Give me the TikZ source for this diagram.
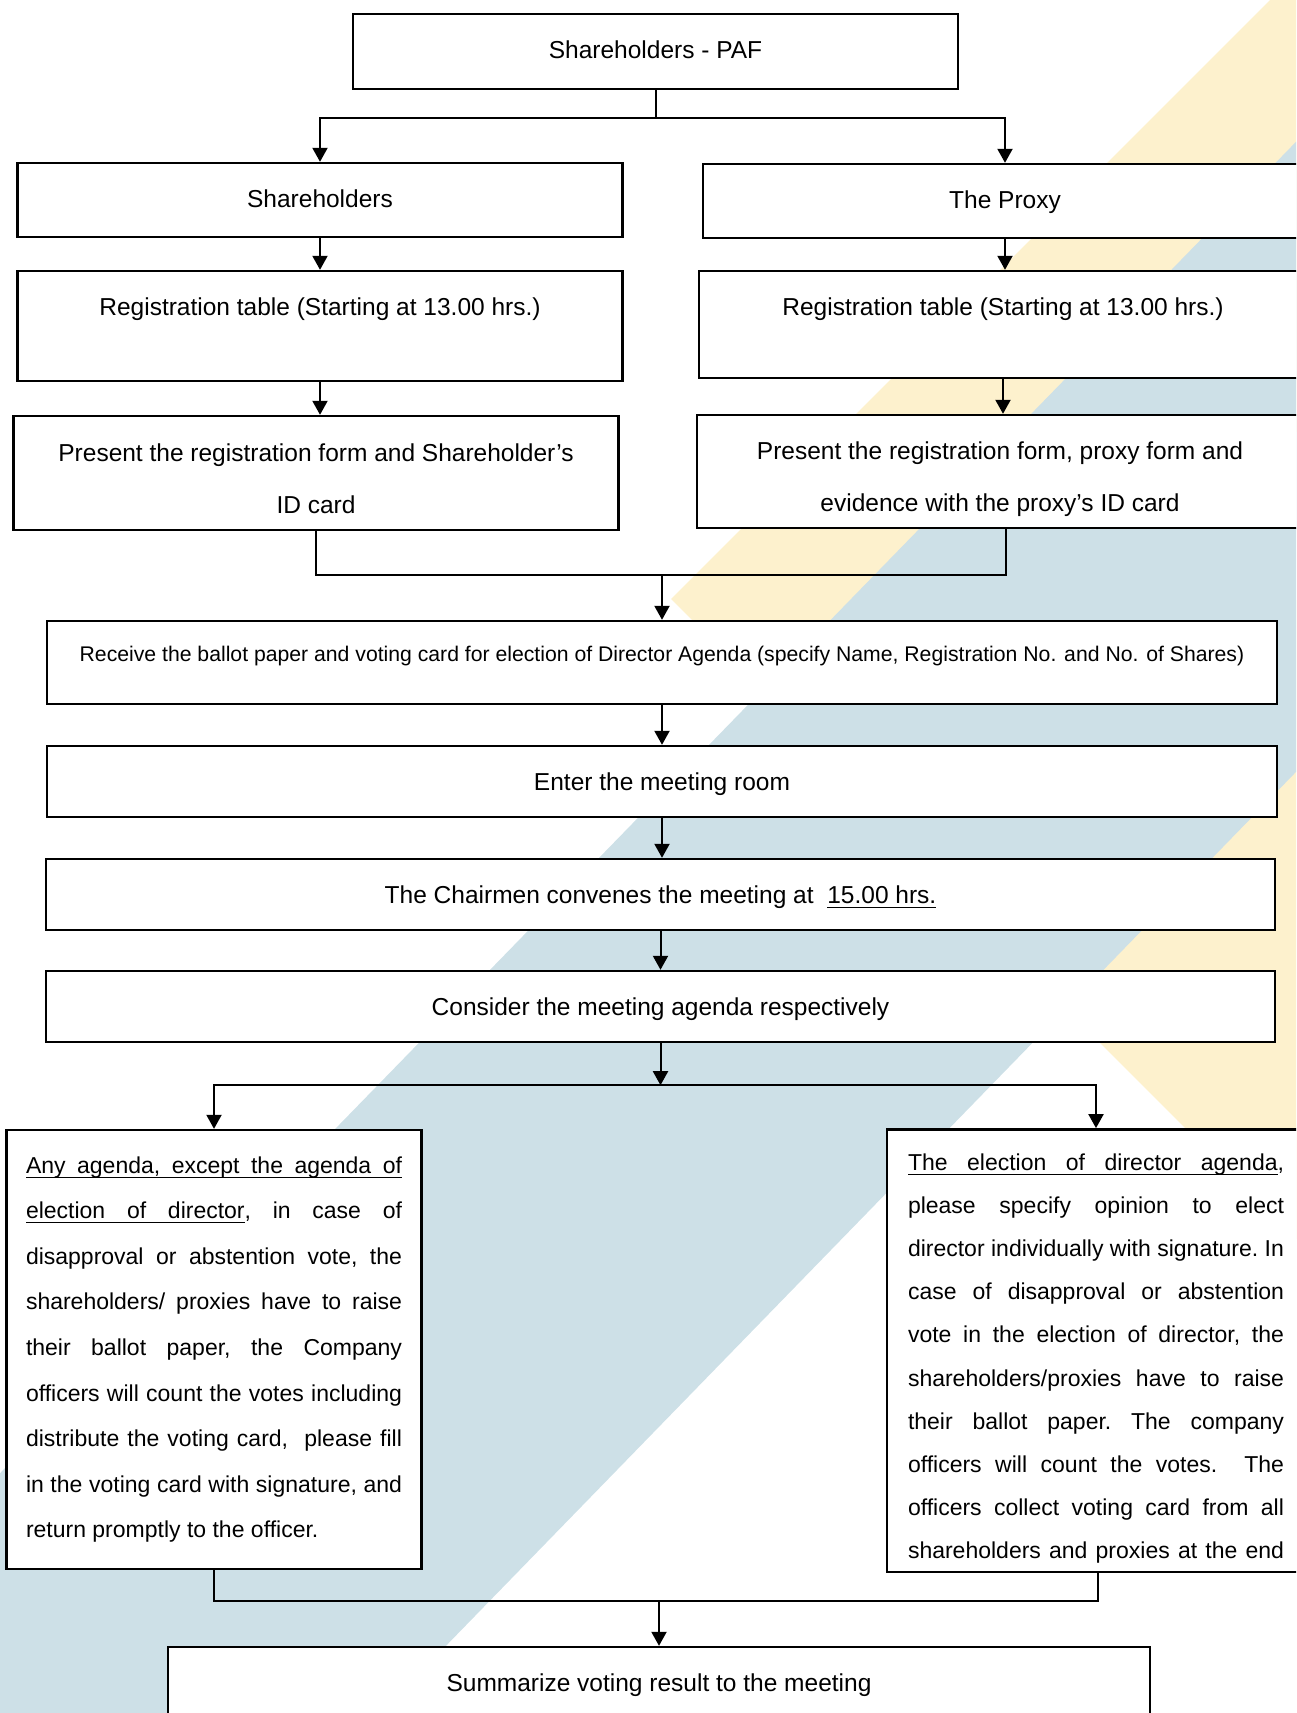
\documentclass[tikz,border=0pt]{standalone}
\usepackage{fontspec}
\setmainfont{Liberation Sans}
\usepackage{tikz}
\usetikzlibrary{arrows.meta}
\definecolor{bandyellow}{HTML}{FDF1CD}
\definecolor{bandblue}{HTML}{CDE0E7}
% underlined word and underlined (stretchable) space
\newcommand\ulw[1]{\setbox0\hbox{#1}\rlap{\vrule height -1.8pt depth 2.4pt width \wd0}\box0}
\newcommand\ulgap{\leaders\hrule height -1.8pt depth 2.4pt\hskip\fontdimen2\font plus\fontdimen3\font minus\fontdimen4\font}
\tikzset{
  lift/.style={text height=9pt,text depth=#1},
  level/.style={text height=9pt,text depth=0pt},
  twoline/.style={align=center,font=\fontsize{12.25}{26}\selectfont},
  agenda/.style={align=justify,text width=188pt,font=\fontsize{11.5}{#1}\selectfont\frenchspacing},
}

\begin{document}
\begin{tikzpicture}[x=0.5pt,y=-0.5pt,
          box/.style={draw=black,line width=1.2pt,fill=white,inner sep=4pt,
                      font=\fontsize{12.25}{14}\selectfont},
          flow/.style={-{Triangle[length=7pt,width=7.5pt]},line width=1pt},
          tie/.style={line width=1pt}]
        \useasboundingbox (0,0) rectangle (1296,1713);
        \clip (0,0) rectangle (1296,1713);
        % background bands
        \fill[bandyellow] (1280,-10) -- (671,599) -- (900,828) -- (1400,328) -- (1400,-10) -- cycle;
        \fill[bandyellow] (1000,943) -- (1450,1393) -- (1450,600) -- (1200,600) -- cycle;
        \fill[bandblue] (1400,35) -- (-100,1576) -- (-100,1800) -- (296,1800) -- (1400,665) -- cycle;
        % registration
        \node[box,lift=2.4pt,minimum width=302.5pt,minimum height=37.5pt] (paf) at (655.5,51.5) {Shareholders - PAF};
        \node[box,lift=1.2pt,minimum width=302.5pt,minimum height=37pt]   (sh)  at (320,200)    {Shareholders};
        \node[box,lift=1.6pt,minimum width=302pt,minimum height=37pt]     (px)  at (1005,201)   {The Proxy};
        \node[box,lift=20pt,minimum width=302.5pt,minimum height=55pt] (regl) at (320,326)  {Registration table (Starting at 13.00 hrs.)};
        \node[box,lift=18pt,minimum width=304pt,minimum height=53.5pt] (regr) at (1003,324.5) {Registration table (Starting at 13.00 hrs.)};
        \node[box,twoline,minimum width=302.5pt,minimum height=57pt] (presl) at (316,473)
          {\rule{0pt}{14.4pt}Present the registration form and Shareholder’s\\ID card};
        \node[box,twoline,minimum width=303pt,minimum height=56.5pt] (presr) at (1000,471.5)
          {\rule{0pt}{16.4pt}Present the registration form, proxy form and\\evidence with the proxy’s ID card};
        % meeting
        \node[box,lift=9.9pt,font=\fontsize{10.6}{13}\selectfont,minimum width=615pt,minimum height=41.5pt] (rec) at (662,662.5)
          {Receive the ballot paper and voting card for election of Director Agenda (specify Name, Registration No. and No. of Shares)};
        \node[box,level,minimum width=615pt,minimum height=35.5pt]   (enter)  at (662,781.5)   {Enter the meeting room};
        \node[box,level,minimum width=614.5pt,minimum height=35.5pt] (chair)  at (660.5,894.5) {The Chairmen convenes the meeting at\ \ \ulw{15.00}\ulgap\ulw{hrs.}};
        \node[box,level,minimum width=614.5pt,minimum height=35.5pt] (agenda) at (660.5,1006.5) {Consider the meeting agenda respectively};
        % voting
        \node[box,agenda=22.8pt,minimum width=207.5pt,minimum height=219.5pt] (anyag) at (214,1349.5)
          {\ulw{Any}\ulgap\ulw{agenda,}\ulgap\ulw{except}\ulgap\ulw{the}\ulgap\ulw{agenda}\ulgap\ulw{of}\linebreak
           \ulw{election}\ulgap\ulw{of}\ulgap\ulw{director}, in case of\linebreak
           disapproval or abstention vote, the\linebreak
           shareholders/ proxies have to raise\linebreak
           their ballot paper, the Company\linebreak
           officers will count the votes including\linebreak
           distribute the voting card,\ \ please fill\linebreak
           in the voting card with signature, and\linebreak
           return promptly to the officer.};
        \node[box,agenda=21.6pt,minimum width=209pt,minimum height=219.5pt] (elect) at (1096,1350.5)
          {\rule{0pt}{16.4pt}\ulw{The}\ulgap\ulw{election}\ulgap\ulw{of}\ulgap\ulw{director}\ulgap\ulw{agenda},\linebreak
           please specify opinion to elect\linebreak
           director individually with signature. In\linebreak
           case of disapproval or abstention\linebreak
           vote in the election of director, the\linebreak
           shareholders/proxies have to raise\linebreak
           their ballot paper. The company\linebreak
           officers will count the votes.\ \ The\linebreak
           officers collect voting card from all\linebreak
           \hbox to\hsize{shareholders and proxies at the end}};
        \node[box,level,minimum width=491pt,minimum height=35.5pt] (summ) at (659,1682.5) {Summarize voting result to the meeting};
        % connectors
        \draw[tie] (paf.south) -- ++(0,28) coordinate (split1);
        \draw[flow] (split1) -| (sh.north);
        \draw[flow] (split1) -| (px.north);
        \draw[flow] (sh.south) -- (sh.south |- regl.north);
        \draw[flow] (px.south) -- (px.south |- regr.north);
        \draw[flow] (regl.south) -- (regl.south |- presl.north);
        \draw[flow] (regr.south) -- (regr.south |- presr.north);
        \draw[tie] (presl.south) -- ++(0,44) coordinate (merge1) -| ([xshift=3pt]presr.south);
        \draw[flow] (rec.north |- merge1) -- (rec.north);
        \draw[flow] (rec.south) -- (rec.south |- enter.north);
        \draw[flow] (enter.south) -- (enter.south |- chair.north);
        \draw[flow] (chair.south) -- (chair.south |- agenda.north);
        \draw[flow] (agenda.south) -- ++(0,42) coordinate (split2);
        \draw[flow] (split2) -| (anyag.north);
        \draw[flow] (split2) -| (elect.north);
        \draw[tie] (anyag.south) -- ++(0,31) coordinate (merge2) -| ([xshift=1pt]elect.south);
        \draw[flow] (summ.north |- merge2) -- (summ.north);
      \end{tikzpicture}
\end{document}
